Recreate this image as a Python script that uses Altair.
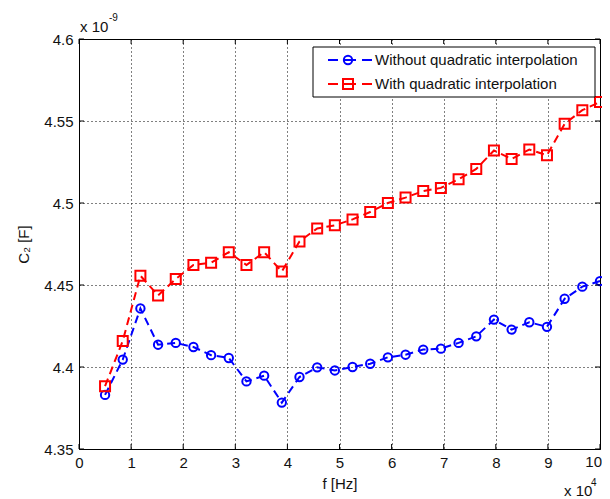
import altair as alt
import pandas as pd

# frequency in units of 10^4 Hz
f_1e4 = [0.5, 0.8393, 1.1786, 1.5179, 1.8571, 2.1964, 2.5357, 2.875, 3.2143, 3.5536,
         3.8929, 4.2321, 4.5714, 4.9107, 5.25, 5.5893, 5.9286, 6.2679, 6.6071, 6.9464,
         7.2857, 7.625, 7.9643, 8.3036, 8.6429, 8.9821, 9.3214, 9.6607, 10.0]
# C2 in units of 10^-9 F
c2_without = [4.3830, 4.4045, 4.4357, 4.4136, 4.4147, 4.4122, 4.4072, 4.4055, 4.3912, 4.3947,
              4.3783, 4.3939, 4.3998, 4.3979, 4.4000, 4.4020, 4.4059, 4.4075, 4.4106, 4.4112,
              4.4147, 4.4187, 4.4289, 4.4228, 4.4273, 4.4245, 4.4416, 4.4490, 4.4524]
c2_with = [4.3883, 4.4159, 4.4557, 4.4436, 4.4537, 4.4622, 4.4636, 4.4700, 4.4622, 4.4700,
           4.4582, 4.4766, 4.4845, 4.4864, 4.4900, 4.4945, 4.5000, 4.5033, 4.5073, 4.5092,
           4.5145, 4.5208, 4.5320, 4.5269, 4.5326, 4.5291, 4.5483, 4.5566, 4.5616]
series_names = ["Without quadratic interpolation", "With quadratic interpolation"]
x_ticks = [0, 1, 2, 3, 4, 5, 6, 7, 8, 9, 10]
y_ticks = [4.35, 4.4, 4.45, 4.5, 4.55, 4.6]

FONT = "Liberation Sans"
TXT = "#111111"
W, H = 521, 410

df = pd.DataFrame({
    "f": f_1e4 + f_1e4,
    "c2": c2_without + c2_with,
    "series": [series_names[0]] * len(f_1e4) + [series_names[1]] * len(f_1e4),
})

xscale = alt.Scale(domain=[0, 10], nice=False, zero=False)
yscale = alt.Scale(domain=[4.35, 4.6], nice=False, zero=False)
cscale = alt.Scale(domain=series_names, range=["#0000FF", "#FF0000"])
sscale = alt.Scale(domain=series_names, range=["circle", "square"])
zscale = alt.Scale(domain=series_names, range=[70, 100])

common_axis = dict(grid=True, gridDash=[1, 3], gridColor="black", gridOpacity=1, gridWidth=1,
                   ticks=False, domain=False, labelFont=FONT, labelFontSize=15,
                   labelColor=TXT, titleFont=FONT, titleFontSize=15,
                   titleFontWeight="normal", titleColor=TXT, labelFlush=False,
                   labelOverlap=False)

# the last x label ("10") is drawn separately so that it is not clipped at the page edge
xaxis = alt.Axis(values=x_ticks, title="f [Hz]", labelPadding=6, titlePadding=6,
                 labelExpr="datum.value == 10 ? '' : format(datum.value, 'd')",
                 **common_axis)
yaxis = alt.Axis(values=y_ticks, title="C₂ [F]", labelPadding=6, titlePadding=12,
                 labelExpr="format(datum.value, '~g')", **common_axis)

lines = alt.Chart(df).mark_line(strokeWidth=2, strokeDash=[8, 5]).encode(
    x=alt.X("f:Q", scale=xscale, axis=xaxis),
    y=alt.Y("c2:Q", scale=yscale, axis=yaxis),
    color=alt.Color("series:N", scale=cscale, legend=None),
    detail="series:N",
)
points = alt.Chart(df).mark_point(filled=False, strokeWidth=2, opacity=1).encode(
    x=alt.X("f:Q", scale=xscale, axis=xaxis),
    y=alt.Y("c2:Q", scale=yscale, axis=yaxis),
    color=alt.Color("series:N", scale=cscale, legend=None),
    shape=alt.Shape("series:N", scale=sscale, legend=None),
    size=alt.Size("series:N", scale=zscale, legend=None),
)

xt = pd.DataFrame({"f": x_ticks})
yt = pd.DataFrame({"c2": y_ticks})
tick_b = alt.Chart(xt).mark_rule(color="black", strokeWidth=1).encode(
    x=alt.X("f:Q", scale=xscale, axis=xaxis), y=alt.value(H), y2=alt.value(H - 5))
tick_t = alt.Chart(xt).mark_rule(color="black", strokeWidth=1).encode(
    x=alt.X("f:Q", scale=xscale, axis=xaxis), y=alt.value(0), y2=alt.value(5))
tick_l = alt.Chart(yt).mark_rule(color="black", strokeWidth=1).encode(
    y=alt.Y("c2:Q", scale=yscale, axis=yaxis), x=alt.value(0), x2=alt.value(5))
tick_r = alt.Chart(yt).mark_rule(color="black", strokeWidth=1).encode(
    y=alt.Y("c2:Q", scale=yscale, axis=yaxis), x=alt.value(W), x2=alt.value(W - 5))

one = pd.DataFrame({"a": [0]})
leg_box = alt.Chart(one).mark_rect(fill="white", stroke="black", strokeWidth=1).encode(
    x=alt.value(234), x2=alt.value(516), y=alt.value(8), y2=alt.value(58))

def legend_row(ypos, color, shape, size, label):
    ln = alt.Chart(one).mark_rule(color=color, strokeWidth=2,
                                  strokeDash=[10, 6, 12, 6, 10]).encode(
        x=alt.value(249), x2=alt.value(293), y=alt.value(ypos))
    mk = alt.Chart(one).mark_point(shape=shape, filled=False, size=size, strokeWidth=2,
                                   color=color, opacity=1).encode(
        x=alt.value(269), y=alt.value(ypos))
    tx = alt.Chart(one).mark_text(align="left", baseline="middle", font=FONT, fontSize=15,
                                  color=TXT).encode(
        x=alt.value(296), y=alt.value(ypos), text=alt.value(label))
    return ln + mk + tx

leg1 = legend_row(21, "#0000FF", "circle", 70, series_names[0])
leg2 = legend_row(45, "#FF0000", "square", 100, series_names[1])

def txt(x, y, s, size, align="left", baseline="middle"):
    return alt.Chart(one).mark_text(align=align, baseline=baseline, font=FONT,
                                    fontSize=size, color=TXT).encode(
        x=alt.value(x), y=alt.value(y), text=alt.value(s))

last_label = txt(W + 2, H + 6, "10", 15, align="right", baseline="top")
exp_y = txt(1, -12, "x 10", 15) + txt(30, -21, "-9", 10)
exp_x = txt(W - 36, H + 42, "x 10", 15) + txt(W - 9, H + 34, "4", 10)

chart = alt.layer(lines, points, tick_b, tick_t, tick_l, tick_r,
                  leg_box, leg1, leg2, last_label, exp_y, exp_x).properties(
    width=W, height=H, autosize="none", background="white",
    padding={"left": 71, "top": 31, "right": 2, "bottom": 50},
).configure_view(stroke="black", strokeWidth=1)

chart.save("out.html", embed_options={"renderer": "svg", "actions": False})
